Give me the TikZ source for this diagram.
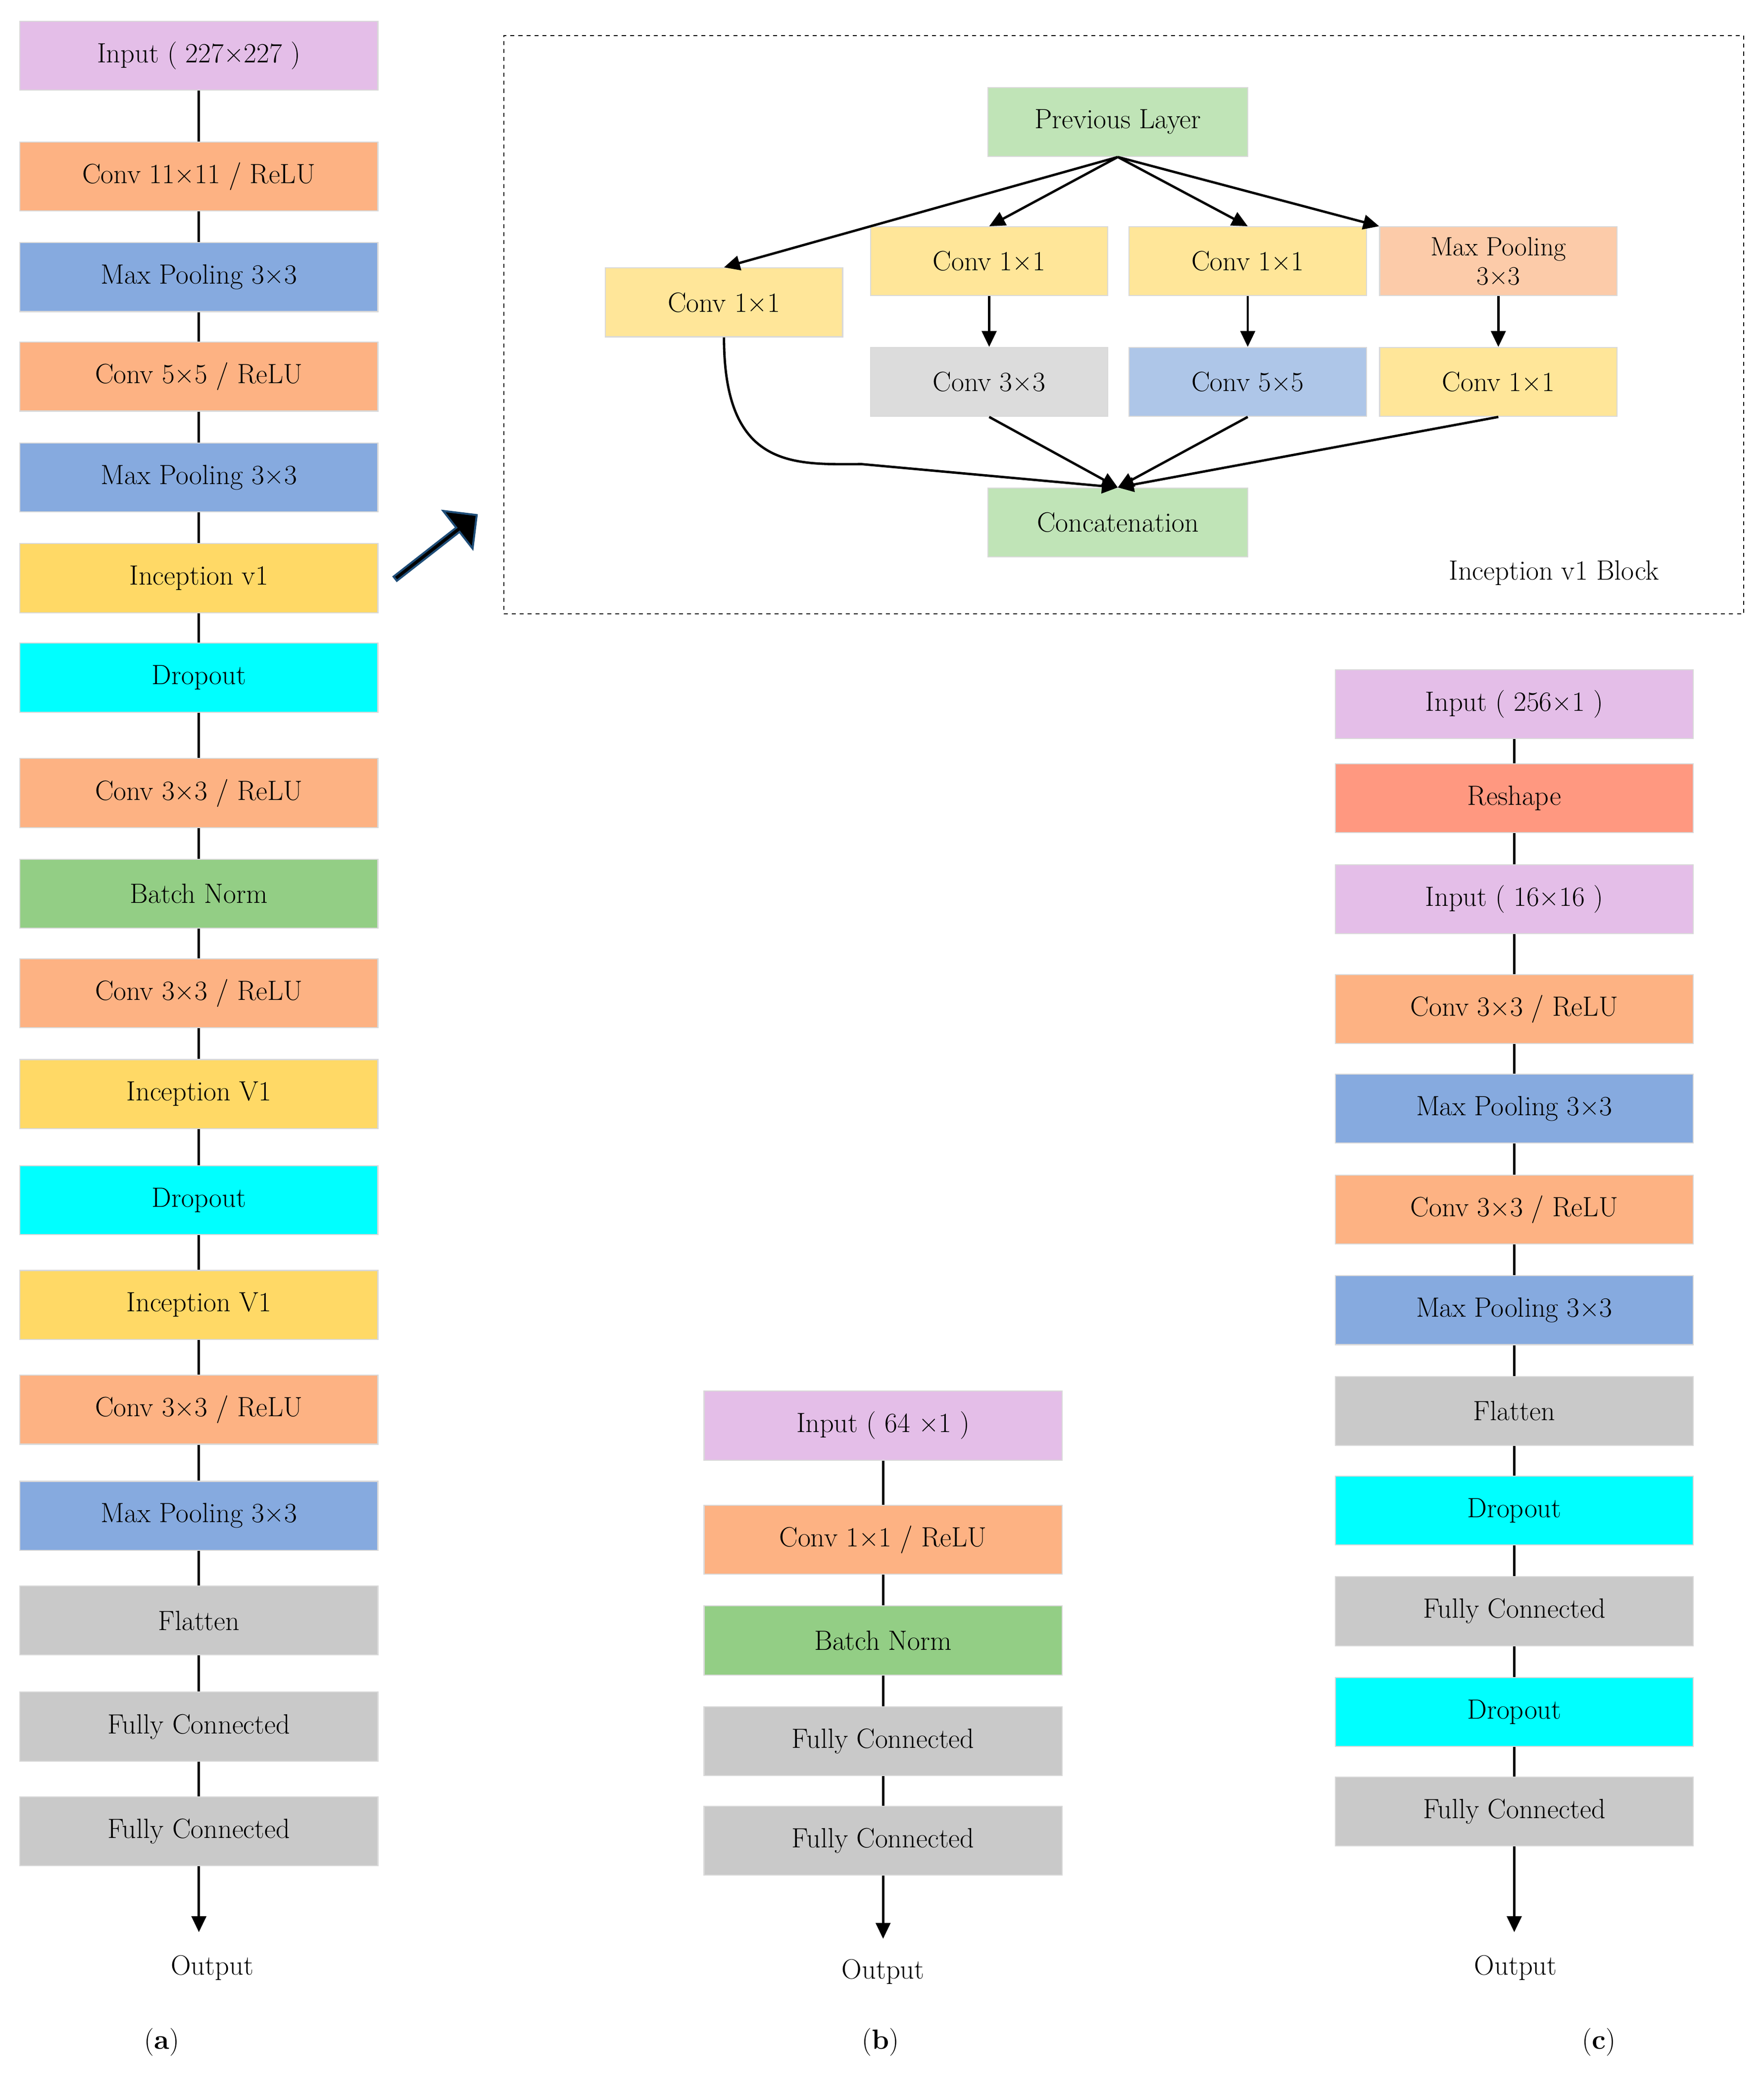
\documentclass[tikz,border=0pt]{standalone}
\usetikzlibrary{shapes.arrows,arrows.meta}
\definecolor{cin}{HTML}{E4BEE8}
\definecolor{cconv}{HTML}{FDB283}
\definecolor{cmp}{HTML}{86AADF}
\definecolor{cinc}{HTML}{FFD966}
\definecolor{cdrop}{HTML}{00FFFF}
\definecolor{cbn}{HTML}{93CE85}
\definecolor{cgray}{HTML}{C9C9C9}
\definecolor{cresh}{HTML}{FF9880}
\definecolor{cgreen}{HTML}{C0E4B7}
\definecolor{cy}{HTML}{FFE699}
\definecolor{cpeach}{HTML}{FCCBA9}
\definecolor{cg2}{HTML}{DCDCDC}
\definecolor{cb2}{HTML}{AEC6E8}
\definecolor{cblue}{HTML}{1F4E79}
\begin{document}
\begin{tikzpicture}[x=1pt,y=-1pt,
  box/.style={draw=black!15,line width=0.8pt,minimum width=270pt,minimum height=52pt,inner sep=0pt,font=\fontsize{21}{25}\selectfont},
  sbox/.style={draw=black!15,line width=0.8pt,minimum width=179pt,minimum height=52pt,inner sep=0pt,font=\fontsize{21}{25}\selectfont,align=center},
  lnk/.style={line width=1.8pt},
  arr/.style={line width=1.8pt,-{Triangle[length=12pt,width=11pt]}},
  lbl/.style={font=\fontsize{21}{25}\selectfont}]
\useasboundingbox (0,0) rectangle (1330,1570);
% column a
\node[box,fill=cin] (a1) at (150,42) {Input ( 227×227 )};
\node[box,fill=cconv] (a2) at (150,133) {Conv 11×11 / ReLU};
\node[box,fill=cmp] (a3) at (150,209) {Max Pooling 3×3};
\node[box,fill=cconv] (a4) at (150,284) {Conv 5×5 / ReLU};
\node[box,fill=cmp] (a5) at (150,360) {Max Pooling 3×3};
\node[box,fill=cinc] (a6) at (150,436) {Inception v1};
\node[box,fill=cdrop] (a7) at (150,511) {Dropout};
\node[box,fill=cconv] (a8) at (150,598) {Conv 3×3 / ReLU};
\node[box,fill=cbn] (a9) at (150,674) {Batch Norm};
\node[box,fill=cconv] (a10) at (150,749) {Conv 3×3 / ReLU};
\node[box,fill=cinc] (a11) at (150,825) {Inception V1};
\node[box,fill=cdrop] (a12) at (150,905) {Dropout};
\node[box,fill=cinc] (a13) at (150,984) {Inception V1};
\node[box,fill=cconv] (a14) at (150,1063) {Conv 3×3 / ReLU};
\node[box,fill=cmp] (a15) at (150,1143) {Max Pooling 3×3};
\node[box,fill=cgray] (a16) at (150,1222) {Flatten};
\node[box,fill=cgray] (a17) at (150,1302) {Fully Connected};
\node[box,fill=cgray] (a18) at (150,1381) {Fully Connected};
\foreach \i [evaluate=\i as \j using int(\i+1)] in {1,...,17} \draw[lnk] (a\i) -- (a\j);
\coordinate (ao) at (150,1457);
\draw[arr] (a18) -- (ao);
\node[lbl] (aout) at (160,1484) {Output};
\node[lbl] (la) at (122,1540) {(\textbf{a})};
% big arrow
\node[single arrow,fill=black,draw=cblue,line width=1.5pt,rotate=38,minimum height=78pt,minimum width=36pt,single arrow head extend=6pt,inner sep=0pt] (big) at (328,413) {};
% inception block
\node[draw,dashed,line width=0.8pt,minimum width=935pt,minimum height=436pt,inner sep=0pt] (blk) at (847.5,245) {};
\node[lbl] (blbl) at (1172,432) {Inception v1 Block};
\node[sbox,minimum width=196pt,fill=cgreen] (prev) at (843,92) {Previous Layer};
\node[sbox,fill=cy] (c1) at (546,228) {Conv 1×1};
\node[sbox,fill=cy] (c2) at (746,197) {Conv 1×1};
\node[sbox,fill=cy] (c3) at (941,197) {Conv 1×1};
\node[sbox,fill=cpeach,font=\fontsize{20}{24}\selectfont] (c4) at (1130,197) {Max Pooling\\[-2pt]3×3};
\node[sbox,fill=cg2] (d2) at (746,288) {Conv 3×3};
\node[sbox,fill=cb2] (d3) at (941,288) {Conv 5×5};
\node[sbox,fill=cy] (d4) at (1130,288) {Conv 1×1};
\node[sbox,minimum width=196pt,fill=cgreen] (cat) at (843,394) {Concatenation};
\draw[arr] (prev.south) -- (c1.north);
\draw[arr] (prev.south) -- (c2.north);
\draw[arr] (prev.south) -- (c3.north);
\draw[arr] (prev.south) -- (c4.north west);
\draw[arr] (c2) -- (d2);
\draw[arr] (c3) -- (d3);
\draw[arr] (c4) -- (d4);
\draw[arr] (d2.south) -- (cat.north);
\draw[arr] (d3.south) -- (cat.north);
\draw[arr] (d4.south) -- (cat.north);
\draw[arr] (c1.south) .. controls (546,355) and (600,350) .. (650,350) -- (cat.north);
% column b
\node[box,fill=cin] (b1) at (666,1075) {Input ( 64 ×1 )};
\node[box,fill=cconv] (b2) at (666,1161) {Conv 1×1 / ReLU};
\node[box,fill=cbn] (b3) at (666,1237) {Batch Norm};
\node[box,fill=cgray] (b4) at (666,1313) {Fully Connected};
\node[box,fill=cgray] (b5) at (666,1388) {Fully Connected};
\foreach \i [evaluate=\i as \j using int(\i+1)] in {1,...,4} \draw[lnk] (b\i) -- (b\j);
\coordinate (bo) at (666,1462);
\draw[arr] (b5) -- (bo);
\node[lbl] (bout) at (666,1487) {Output};
\node[lbl] (lb) at (664,1540) {(\textbf{b})};
% column c
\node[box,fill=cin] (e1) at (1142,531) {Input ( 256×1 )};
\node[box,fill=cresh] (e2) at (1142,602) {Reshape};
\node[box,fill=cin] (e3) at (1142,678) {Input ( 16×16 )};
\node[box,fill=cconv] (e4) at (1142,761) {Conv 3×3 / ReLU};
\node[box,fill=cmp] (e5) at (1142,836) {Max Pooling 3×3};
\node[box,fill=cconv] (e6) at (1142,912) {Conv 3×3 / ReLU};
\node[box,fill=cmp] (e7) at (1142,988) {Max Pooling 3×3};
\node[box,fill=cgray] (e8) at (1142,1064) {Flatten};
\node[box,fill=cdrop] (e9) at (1142,1139) {Dropout};
\node[box,fill=cgray] (e10) at (1142,1215) {Fully Connected};
\node[box,fill=cdrop] (e11) at (1142,1291) {Dropout};
\node[box,fill=cgray] (e12) at (1142,1366) {Fully Connected};
\foreach \i [evaluate=\i as \j using int(\i+1)] in {1,...,11} \draw[lnk] (e\i) -- (e\j);
\coordinate (eo) at (1142,1457);
\draw[arr] (e12) -- (eo);
\node[lbl] (eout) at (1143,1484) {Output};
\node[lbl] (lc) at (1206,1540) {(\textbf{c})};
\end{tikzpicture}
\end{document}
